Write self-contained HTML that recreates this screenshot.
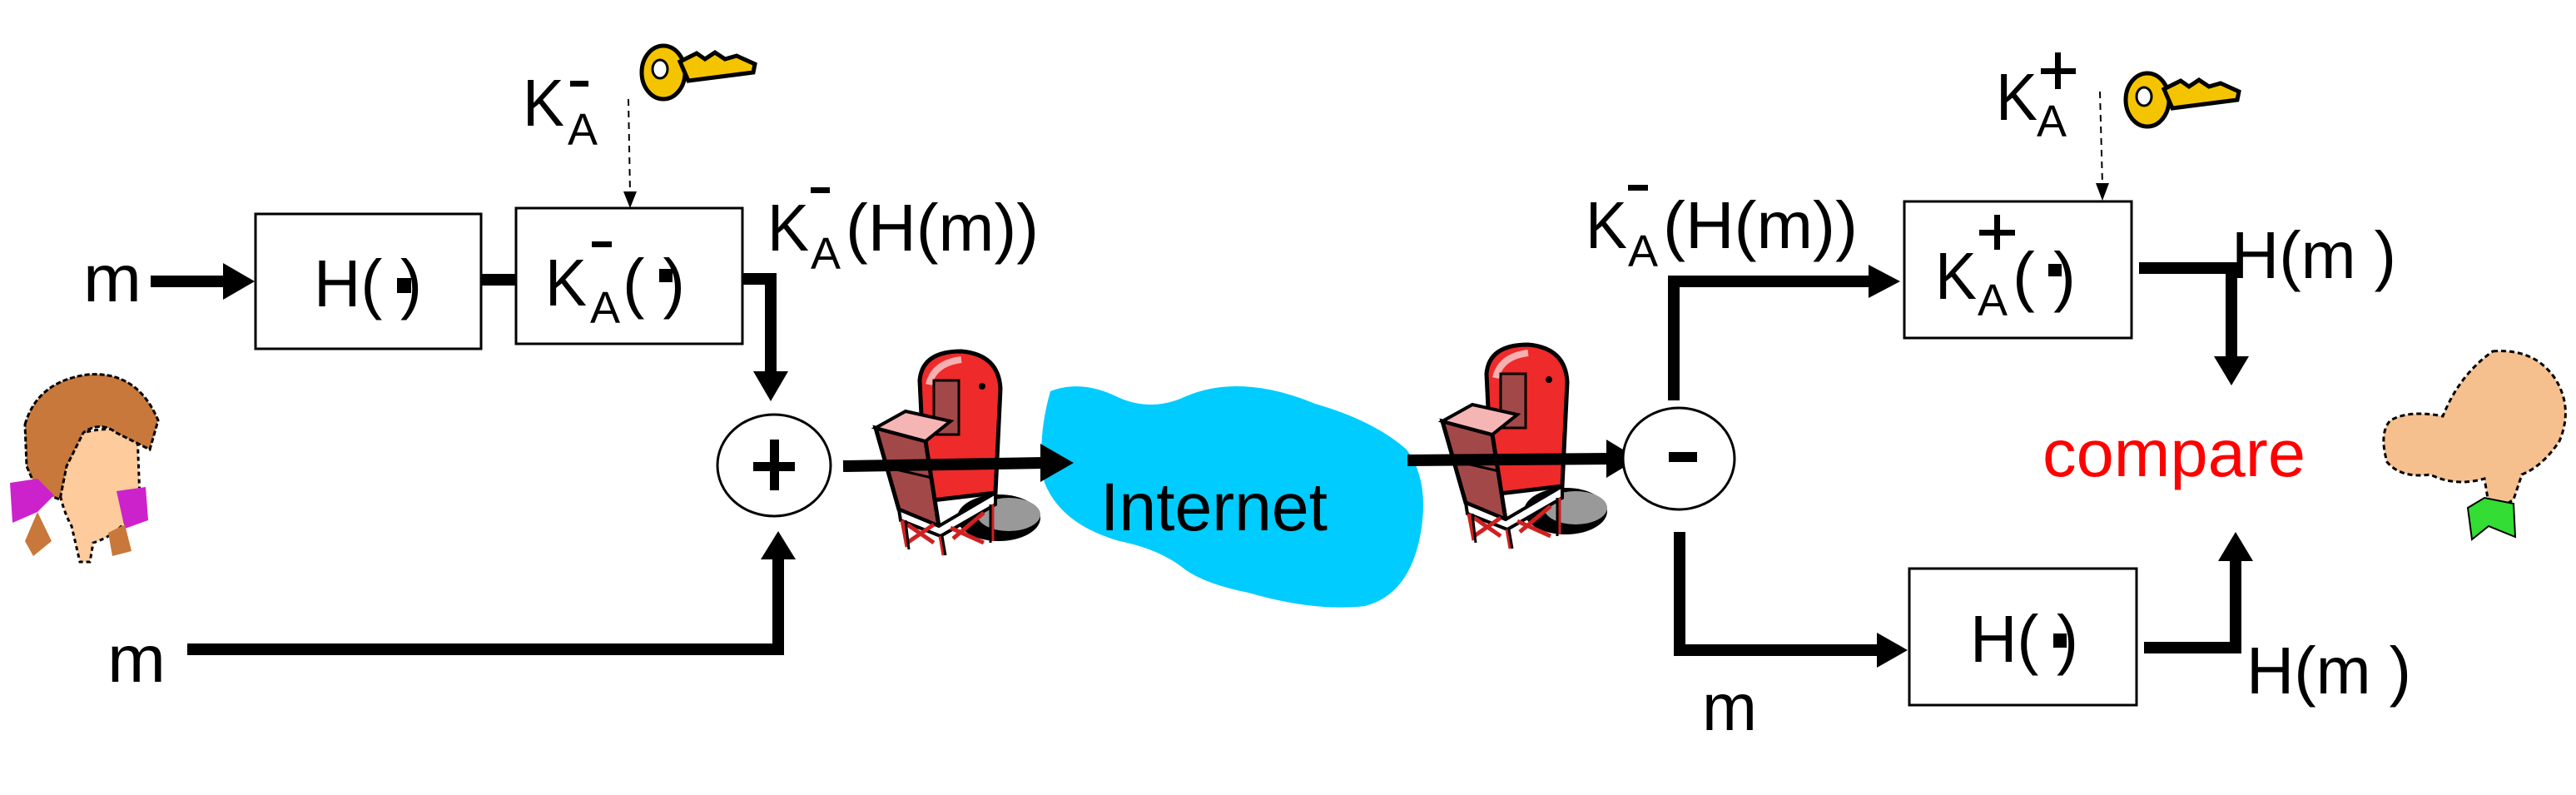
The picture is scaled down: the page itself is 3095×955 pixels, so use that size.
<!DOCTYPE html>
<html><head><meta charset="utf-8"><style>
html,body{margin:0;padding:0;background:#fff;}
svg{display:block;}
text{font-family:"Liberation Sans",Arial,sans-serif;}
</style></head><body>
<svg width="3095" height="955" viewBox="0 0 3095 955" xmlns="http://www.w3.org/2000/svg">
<defs>
<g id="mb">
  <ellipse cx="150" cy="200" rx="50" ry="28" fill="#000"/>
  <ellipse cx="162" cy="196" rx="38" ry="20" fill="#999"/>
  <path d="M62,180 L55,35 Q58,0 105,0 Q150,4 152,45 L146,170 Z" fill="#ee2a2a" stroke="#000" stroke-width="5"/>
  <path d="M66,40 Q72,14 105,10" fill="none" stroke="#f7b0b0" stroke-width="8"/>
  <rect x="72" y="35" width="30" height="65" fill="#a34848" stroke="#000" stroke-width="3"/>
  <circle cx="130" cy="42" r="4" fill="#000"/>
  <polygon points="2,92 62,108 78,210 30,190" fill="#a34848" stroke="#000" stroke-width="5"/>
  <line x1="18" y1="140" x2="70" y2="152" stroke="#000" stroke-width="3"/>
  <polygon points="2,92 38,72 92,84 62,108" fill="#f5b5b5" stroke="#000" stroke-width="4"/>
  <path d="M30,190 L78,210 L146,170 L146,184 L80,222 L32,203 Z" fill="#fff" stroke="#000" stroke-width="4"/>
  <path d="M34,203 L40,235 M80,222 L84,245 M142,184 L142,228 M40,208 L72,230 M72,208 L40,230 M92,212 L132,230 M132,194 L95,225" stroke="#d02020" stroke-width="5" fill="none"/>
  <path d="M38,203 L42,238 M82,222 L86,245 M140,184 L140,230" stroke="#000" stroke-width="3" fill="none"/>
</g>
<g id="key">
  <ellipse cx="30" cy="38" rx="26" ry="32" fill="#f5c400" stroke="#000" stroke-width="5"/>
  <ellipse cx="26" cy="34" rx="9" ry="11" fill="#fff" stroke="#000" stroke-width="3"/>
  <path d="M50,25 L70,15 L80,22 L92,14 L104,22 L118,18 L140,28 L138,38 L60,48 Z" fill="#f5c400" stroke="#000" stroke-width="5"/>
</g>
</defs>

<!-- Internet cloud -->
<path d="M1262,470 Q1300,455 1345,478 Q1385,495 1425,476 Q1490,448 1580,485 Q1650,505 1690,540 Q1720,580 1705,650 Q1690,715 1640,728 Q1580,735 1500,712 Q1450,702 1425,685 Q1395,660 1345,650 Q1275,630 1255,580 Q1245,530 1262,470 Z" fill="#00ccff"/>
<text x="1322" y="637" font-size="82" textLength="273" lengthAdjust="spacingAndGlyphs">Internet</text>

<!-- mailboxes -->
<use href="#mb" transform="translate(1050,422)"/>
<use href="#mb" transform="translate(1731,414)"/>

<!-- Left side -->
<text x="100" y="362" font-size="80" textLength="70" lengthAdjust="spacingAndGlyphs">m</text>
<line x1="181" y1="338" x2="272" y2="338" stroke="#000" stroke-width="14"/>
<polygon points="268,316 306,338 268,360" fill="#000"/>
<rect x="307" y="257" width="271" height="162" fill="#fff" stroke="#000" stroke-width="3"/>
<text x="377" y="368" font-size="80" textLength="130" lengthAdjust="spacingAndGlyphs">H(  )</text>
<rect x="477" y="334" width="17" height="18" fill="#000"/>
<line x1="578" y1="336" x2="620" y2="336" stroke="#000" stroke-width="14"/>
<rect x="620" y="250" width="272" height="163" fill="#fff" stroke="#000" stroke-width="3"/>
<text x="655" y="367" font-size="80" textLength="50" lengthAdjust="spacingAndGlyphs">K</text>
<text x="709" y="388" font-size="54">A</text>
<rect x="711" y="290" width="24" height="7" fill="#000"/>
<text x="748" y="367" font-size="80" textLength="75" lengthAdjust="spacingAndGlyphs">(  )</text>
<rect x="792" y="323" width="16" height="16" fill="#000"/>

<text x="628" y="151" font-size="80" textLength="50" lengthAdjust="spacingAndGlyphs">K</text>
<text x="682" y="174" font-size="54">A</text>
<rect x="685" y="97" width="22" height="7" fill="#000"/>
<use href="#key" transform="translate(767,49)"/>
<line x1="755" y1="119" x2="757" y2="232" stroke="#000" stroke-width="2" stroke-dasharray="8,6"/>
<polygon points="749,230 765,230 757,250" fill="#000"/>

<text x="922" y="301" font-size="80" textLength="50" lengthAdjust="spacingAndGlyphs">K</text>
<text x="974" y="323" font-size="54">A</text>
<rect x="974" y="225" width="23" height="7" fill="#000"/>
<text x="1016" y="301" font-size="80" textLength="232" lengthAdjust="spacingAndGlyphs">(H(m))</text>

<polyline points="892,335 926,335 926,448" fill="none" stroke="#000" stroke-width="14"/>
<polygon points="905,446 947,446 926,482" fill="#000"/>
<ellipse cx="930" cy="559" rx="68" ry="61" fill="#fff" stroke="#000" stroke-width="3"/>
<rect x="905" y="555" width="50" height="11" fill="#000"/>
<rect x="925" y="528" width="11" height="61" fill="#000"/>
<polyline points="225,780 935,780 935,670" fill="none" stroke="#000" stroke-width="14"/>
<polygon points="914,672 956,672 935,638" fill="#000"/>
<text x="129" y="819" font-size="80" textLength="70" lengthAdjust="spacingAndGlyphs">m</text>

<line x1="1013" y1="560" x2="1255" y2="556" stroke="#000" stroke-width="14"/>
<polygon points="1250,533 1290,556 1250,579" fill="#000"/>

<!-- girl -->
<path d="M65,540 Q105,505 165,520 L168,600 Q150,640 112,652 L108,675 L96,675 L86,632 Q68,600 65,540 Z" fill="#fdcb9c" stroke="#000" stroke-width="3" stroke-dasharray="5,4"/>
<path d="M30,510 Q45,458 105,450 Q165,445 190,505 L180,540 L160,530 L140,520 Q120,505 100,520 L80,560 L72,600 L45,590 L32,560 Z" fill="#c8783a" stroke="#000" stroke-width="3" stroke-dasharray="6,3"/>
<path d="M12,580 L45,575 L65,595 L45,615 L15,628 Z" fill="#cc22cc"/>
<path d="M140,590 L175,585 L178,625 L150,635 Z" fill="#cc22cc"/>
<path d="M30,650 L45,615 L62,650 L40,668 Z" fill="#c8783a"/>
<path d="M130,640 L150,630 L158,662 L135,668 Z" fill="#c8783a"/>

<!-- Right side -->
<line x1="1691" y1="553" x2="1935" y2="551" stroke="#000" stroke-width="14"/>
<polygon points="1930,528 1968,551 1930,574" fill="#000"/>
<ellipse cx="2017" cy="551" rx="67" ry="61" fill="#fff" stroke="#000" stroke-width="3"/>
<rect x="2005" y="543" width="34" height="12" fill="#000"/>

<polyline points="2011,481 2011,338 2250,338" fill="none" stroke="#000" stroke-width="14"/>
<polygon points="2245,318 2283,338 2245,358" fill="#000"/>
<text x="1905" y="298" font-size="80" textLength="50" lengthAdjust="spacingAndGlyphs">K</text>
<text x="1956" y="320" font-size="54">A</text>
<rect x="1956" y="222" width="24" height="7" fill="#000"/>
<text x="1998" y="298" font-size="80" textLength="234" lengthAdjust="spacingAndGlyphs">(H(m))</text>

<rect x="2288" y="242" width="273" height="164" fill="#fff" stroke="#000" stroke-width="3"/>
<text x="2325" y="359" font-size="80" textLength="50" lengthAdjust="spacingAndGlyphs">K</text>
<text x="2376" y="379" font-size="54">A</text>
<rect x="2378" y="276" width="43" height="7" fill="#000"/>
<rect x="2396" y="258" width="7" height="42" fill="#000"/>
<text x="2418" y="359" font-size="80" textLength="76" lengthAdjust="spacingAndGlyphs">(  )</text>
<rect x="2461" y="317" width="16" height="15" fill="#000"/>

<text x="2398" y="144" font-size="80" textLength="50" lengthAdjust="spacingAndGlyphs">K</text>
<text x="2447" y="164" font-size="54">A</text>
<rect x="2452" y="82" width="42" height="7" fill="#000"/>
<rect x="2469" y="63" width="7" height="44" fill="#000"/>
<use href="#key" transform="translate(2550,82)"/>
<line x1="2523" y1="110" x2="2526" y2="222" stroke="#000" stroke-width="2" stroke-dasharray="8,6"/>
<polygon points="2518,220 2534,220 2526,241" fill="#000"/>

<polyline points="2570,322 2681,322 2681,430" fill="none" stroke="#000" stroke-width="14"/>
<polygon points="2660,428 2702,428 2681,463" fill="#000"/>
<text x="2681" y="334" font-size="80" textLength="198" lengthAdjust="spacingAndGlyphs">H(m )</text>

<text x="2454" y="572" font-size="80" fill="#ff0000" textLength="316" lengthAdjust="spacingAndGlyphs">compare</text>

<polyline points="2018,639 2018,781 2258,781" fill="none" stroke="#000" stroke-width="14"/>
<polygon points="2255,760 2292,781 2255,802" fill="#000"/>
<text x="2045" y="877" font-size="80" textLength="66" lengthAdjust="spacingAndGlyphs">m</text>
<rect x="2294" y="683" width="273" height="164" fill="#fff" stroke="#000" stroke-width="3"/>
<text x="2367" y="795" font-size="80" textLength="130" lengthAdjust="spacingAndGlyphs">H(  )</text>
<rect x="2467" y="761" width="16" height="17" fill="#000"/>
<polyline points="2576,778 2686,778 2686,672" fill="none" stroke="#000" stroke-width="14"/>
<polygon points="2665,674 2707,674 2686,639" fill="#000"/>
<text x="2699" y="833" font-size="80" textLength="198" lengthAdjust="spacingAndGlyphs">H(m )</text>

<!-- man -->
<path d="M2995,422 Q3045,418 3070,455 Q3092,490 3075,530 Q3055,560 3030,570 L3020,600 L3005,610 L2990,605 L2985,575 Q2950,585 2920,570 Q2885,575 2868,555 Q2858,520 2872,505 Q2895,492 2935,500 Q2955,450 2995,422 Z" fill="#f5c08e" stroke="#000" stroke-width="3" stroke-dasharray="6,4"/>
<path d="M2965,610 L2985,598 L3020,605 L3022,645 L2990,632 L2970,648 Z" fill="#33dd33" stroke="#000" stroke-width="2"/>
</svg>
</body></html>
